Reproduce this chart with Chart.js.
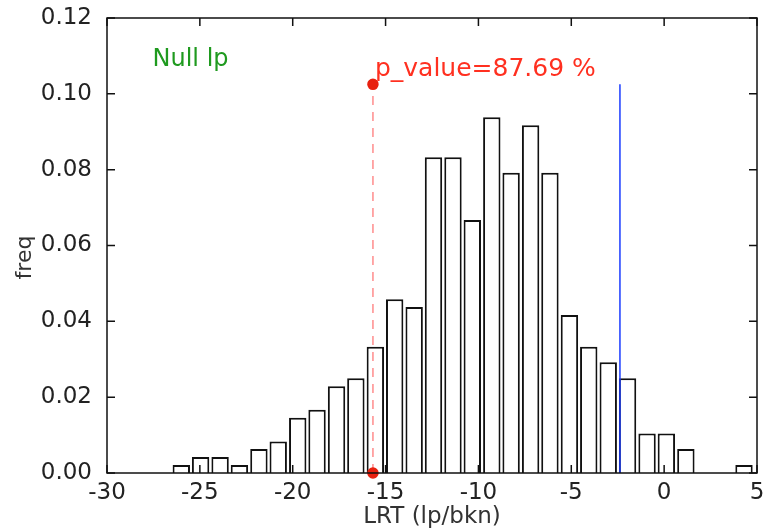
<!DOCTYPE html>
<html>
<head>
<meta charset="utf-8">
<script src="https://cdn.jsdelivr.net/npm/chart.js@4.4.0/dist/chart.umd.min.js"></script>
<style>
  html, body { margin: 0; padding: 0; background: #fff; }
  #wrap { width: 764px; height: 531px; }
</style>
</head>
<body>
<div id="wrap"><canvas id="myChart" width="764" height="531"></canvas></div>
<script>
// histogram of the LRT statistic under the null model
var binCenters = [-26.00, -24.96, -23.91, -22.87, -21.82, -20.78, -19.73, -18.69, -17.64, -16.60,
                  -15.55, -14.51, -13.46, -12.42, -11.37, -10.33, -9.28, -8.24, -7.19, -6.15,
                  -5.10, -4.06, -3.01, -1.97, -0.92, 0.12, 1.17, 2.21, 3.26, 4.30];
var freq = [0.0021, 0.0042, 0.0042, 0.0021, 0.0063, 0.0083, 0.0146, 0.0167, 0.0229, 0.0250,
            0.0333, 0.0458, 0.0438, 0.0833, 0.0833, 0.0667, 0.0938, 0.0792, 0.0917, 0.0792,
            0.0417, 0.0333, 0.0292, 0.0250, 0.0104, 0.0104, 0.0063, 0, 0, 0.0021];

var xTicks = [-30, -25, -20, -15, -10, -5, 0, 5];
var yTicks = [0.00, 0.02, 0.04, 0.06, 0.08, 0.10, 0.12];

// observed LRT, the reference value and the marker height
var observedLRT = -15.68;
var referenceLRT = -2.38;
var markerTop = 0.1025;
var pValueText = 'p_value=87.69 %';
var modelText = 'Null lp';

var bars = binCenters.map(function (x, i) { return { x: x, y: freq[i] }; });

// frame + inward tick marks, plus the two text notes
var framePlugin = {
  id: 'frame',
  afterDraw: function (chart) {
    var ctx = chart.ctx;
    var a = chart.chartArea;
    var xs = chart.scales.x, ys = chart.scales.y;
    ctx.save();
    ctx.strokeStyle = '#111';
    ctx.lineWidth = 1.5;
    ctx.strokeRect(a.left, a.top, a.right - a.left, a.bottom - a.top);
    ctx.beginPath();
    xTicks.forEach(function (v) {
      var px = xs.getPixelForValue(v);
      ctx.moveTo(px, a.bottom); ctx.lineTo(px, a.bottom - 8);
      ctx.moveTo(px, a.top); ctx.lineTo(px, a.top + 8);
    });
    yTicks.forEach(function (v) {
      var py = ys.getPixelForValue(v);
      ctx.moveTo(a.left, py); ctx.lineTo(a.left + 8, py);
      ctx.moveTo(a.right, py); ctx.lineTo(a.right - 8, py);
    });
    ctx.stroke();

    ctx.textBaseline = 'alphabetic';
    ctx.font = '25px "DejaVu Sans"';
    ctx.fillStyle = '#ff3020';
    ctx.fillText(pValueText, xs.getPixelForValue(observedLRT) + 2, ys.getPixelForValue(0.1047));
    ctx.font = '24px "DejaVu Sans"';
    ctx.fillStyle = '#1f9a1f';
    ctx.fillText(modelText, xs.getPixelForValue(-27.55), ys.getPixelForValue(0.1074));

    // y axis title, drawn a little below the middle of the axis
    ctx.save();
    ctx.translate(25, (a.top + a.bottom) / 2 + 12);
    ctx.rotate(-Math.PI / 2);
    ctx.font = '22px "DejaVu Sans"';
    ctx.fillStyle = '#333';
    ctx.textAlign = 'center';
    ctx.textBaseline = 'middle';
    ctx.fillText('freq', 0, 0);
    ctx.restore();
    ctx.restore();
  }
};

var ctx = document.getElementById('myChart').getContext('2d');
var myChart = new Chart(ctx, {
  type: 'bar',
  data: {
    datasets: [{
      type: 'bar',
      data: bars,
      backgroundColor: '#ffffff',
      borderColor: '#111111',
      borderWidth: 2,
      barPercentage: 0.9,
      categoryPercentage: 1.0,
      order: 3
    }, {
      type: 'line',
      data: [{ x: observedLRT, y: 0 }, { x: observedLRT, y: markerTop }],
      borderColor: 'rgba(255, 110, 110, 0.8)',
      borderWidth: 1.5,
      borderDash: [9, 7],
      pointRadius: 5,
      pointBackgroundColor: '#e8200f',
      pointBorderColor: '#e8200f',
      clip: false,
      order: 1
    }, {
      type: 'line',
      data: [{ x: referenceLRT, y: 0 }, { x: referenceLRT, y: markerTop }],
      borderColor: '#1a3cff',
      borderWidth: 1.5,
      pointRadius: 0,
      order: 2
    }]
  },
  options: {
    responsive: false,
    animation: false,
    layout: { padding: { left: 0, right: 7, top: 18, bottom: 0 } },
    plugins: { legend: { display: false }, tooltip: { enabled: false } },
    scales: {
      x: {
        type: 'linear',
        min: -30,
        max: 5,
        offset: false,
        grid: { display: false, offset: false },
        border: { display: false },
        afterBuildTicks: function (scale) {
          scale.ticks = xTicks.map(function (v) { return { value: v }; });
        },
        afterFit: function (scale) { scale.height = 58; },
        ticks: {
          padding: -2,
          color: '#222',
          font: { family: 'DejaVu Sans', size: 23 },
          maxRotation: 0
        },
        title: {
          display: true,
          text: 'LRT (lp/bkn)',
          color: '#333',
          font: { family: 'DejaVu Sans', size: 23 },
          padding: { top: 0, bottom: 0 }
        }
      },
      y: {
        min: 0,
        max: 0.12,
        grid: { display: false },
        border: { display: false },
        afterBuildTicks: function (scale) {
          scale.ticks = yTicks.map(function (v) { return { value: v }; });
        },
        afterFit: function (scale) {
          scale.width = 107;
          scale.paddingTop = 0;
          scale.paddingBottom = 0;
        },
        ticks: {
          padding: 7,
          color: '#222',
          font: { family: 'DejaVu Sans', size: 23 },
          callback: function (v) { return Number(v).toFixed(2); }
        }
      }
    }
  },
  plugins: [framePlugin]
});
</script>
</body>
</html>
